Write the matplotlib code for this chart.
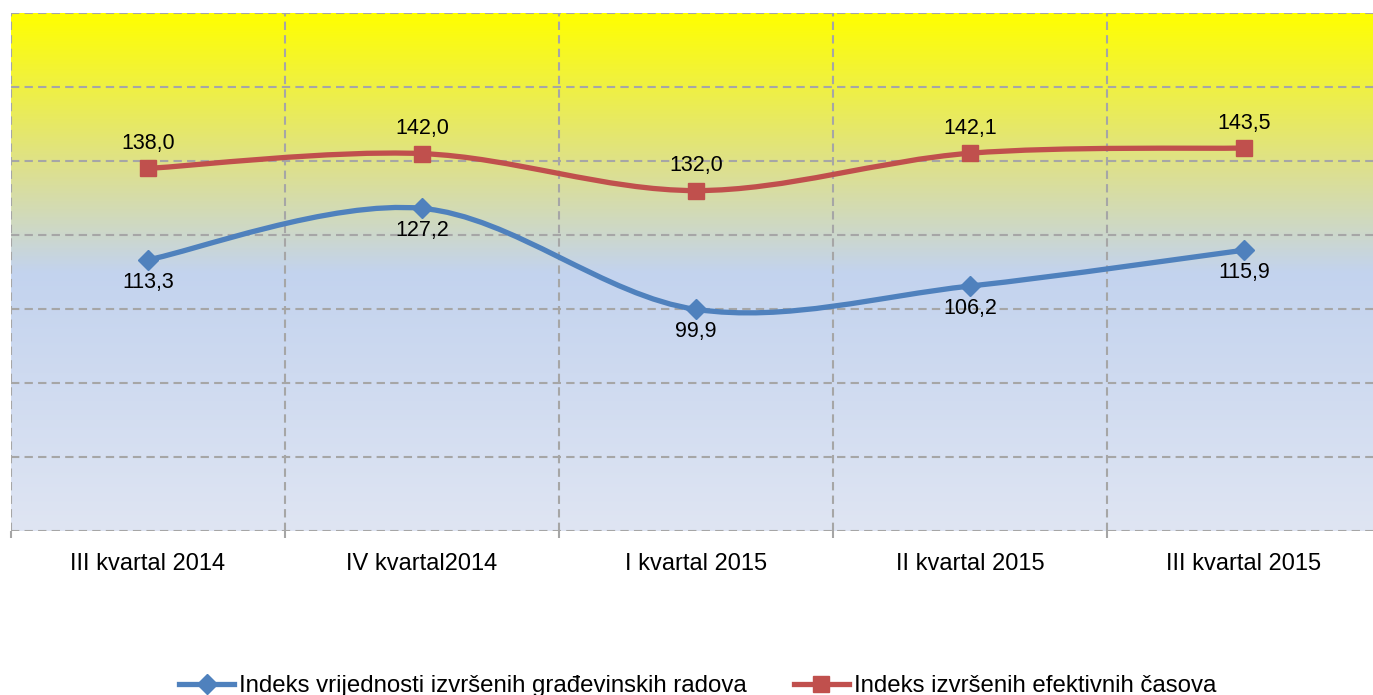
import numpy as np
import matplotlib
matplotlib.use('Agg')
import matplotlib.pyplot as plt
from matplotlib.colors import LinearSegmentedColormap
from matplotlib.path import Path
from matplotlib.patches import PathPatch
from matplotlib.lines import Line2D

plt.rcParams['font.family'] = ['Liberation Sans', 'DejaVu Sans']

categories = ['III kvartal 2014', 'IV kvartal2014', 'I kvartal 2015', 'II kvartal 2015', 'III kvartal 2015']
vrijednost = [113.3, 127.2, 99.9, 106.2, 115.9]
casovi = [138.0, 142.0, 132.0, 142.1, 143.5]
name_vrijednost = 'Indeks vrijednosti izvršenih građevinskih radova'
name_casovi = 'Indeks izvršenih efektivnih časova'

BLUE = '#4F81BD'
RED = '#C0504D'
GRID = '#A6A6A6'


def smooth_path(xs, ys):
    # excel-like smoothed line: cubic bezier, catmull-rom style control points
    pts = np.column_stack([xs, ys]).astype(float)
    n = len(pts)
    verts = [pts[0]]
    codes = [Path.MOVETO]
    for i in range(n - 1):
        p0 = pts[i - 1] if i > 0 else pts[i]
        p1 = pts[i]
        p2 = pts[i + 1]
        p3 = pts[i + 2] if i + 2 < n else pts[i + 1]
        c1 = p1 + (p2 - p0) / 6.0
        c2 = p2 - (p3 - p1) / 6.0
        verts += [c1, c2, p2]
        codes += [Path.CURVE4] * 3
    return Path(verts, codes)


fig = plt.figure(figsize=(13.73, 6.95), dpi=100)
W, H = 1373, 695
ax = fig.add_axes([11 / W, (H - 531) / H, 1370 / W, 518 / H])

x = np.arange(len(categories))
ax.set_xlim(-0.5, len(categories) - 0.5)
ax.set_ylim(40, 180)

# gradient background
cmap = LinearSegmentedColormap.from_list('bg', [
    (0.0, '#FFFF00'),
    (0.30, '#DDE08E'),
    (0.50, '#C3D3EE'),
    (1.0, '#DFE5F3'),
])
grad = np.linspace(0, 1, 256).reshape(-1, 1)
ax.imshow(grad, cmap=cmap, aspect='auto', extent=(-0.5, len(categories) - 0.5, 40, 180),
          origin='upper', zorder=0)

# grid
for yv in range(40, 181, 20):
    ax.axhline(yv, color=GRID, lw=1.5, dashes=(4, 2.5), zorder=1)
for xv in np.arange(-0.5, len(categories), 1.0):
    ax.axvline(xv, color=GRID, lw=1.5, dashes=(4, 2.5), zorder=1)

for s in ax.spines.values():
    s.set_visible(False)

ax.set_yticks([])
ax.set_xticks(x)
ax.set_xticklabels(categories, fontsize=17)
ax.set_xticks(np.arange(-0.5, len(categories), 1.0), minor=True)
ax.tick_params(axis='x', which='major', length=0, pad=15.5)
ax.tick_params(axis='x', which='minor', length=5, width=1.5, color=GRID)

# lines
ax.add_patch(PathPatch(smooth_path(x, vrijednost), fill=False, edgecolor=BLUE, lw=3.8,
                       capstyle='round', zorder=3))
ax.add_patch(PathPatch(smooth_path(x, casovi), fill=False, edgecolor=RED, lw=3.8,
                       capstyle='round', zorder=3))
ax.plot(x, vrijednost, ls='none', marker='D', ms=10.5, color=BLUE, zorder=4)
ax.plot(x, casovi, ls='none', marker='s', ms=12, color=RED, zorder=4)

for xi, v in zip(x, vrijednost):
    ax.annotate(f'{v:.1f}'.replace('.', ','), (xi, v), xytext=(0, -16), textcoords='offset points',
                ha='center', va='center', fontsize=15.5, zorder=5)
for xi, v in zip(x, casovi):
    ax.annotate(f'{v:.1f}'.replace('.', ','), (xi, v), xytext=(0, 18), textcoords='offset points',
                ha='center', va='center', fontsize=15.5, zorder=5)

handles = [
    Line2D([], [], color=BLUE, lw=3.8, marker='D', ms=10.5),
    Line2D([], [], color=RED, lw=3.8, marker='s', ms=12),
]
fig.legend(handles, [name_vrijednost, name_casovi], loc='center', bbox_to_anchor=(0.508, 0.013),
           ncol=2, frameon=False, fontsize=17.3, handlelength=2.3, handletextpad=0.2,
           columnspacing=1.95)

fig.savefig('out.png', dpi=100)
